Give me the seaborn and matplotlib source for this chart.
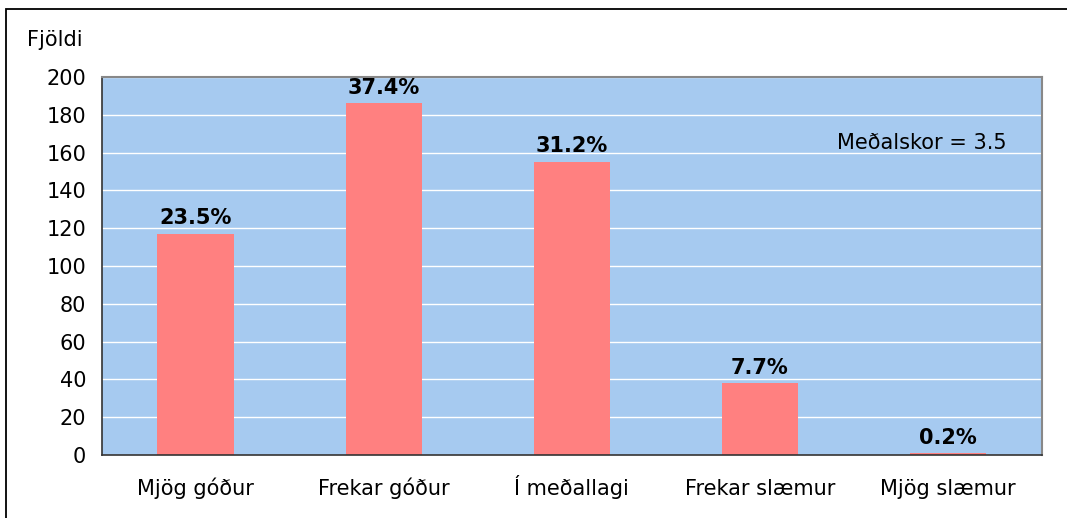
import seaborn as sns
import matplotlib.pyplot as plt
import pandas as pd
from matplotlib.patches import Rectangle

categories = ["Mjög góður", "Frekar góður", "Í meðallagi", "Frekar slæmur", "Mjög slæmur"]
counts = [117, 186, 155, 38, 1]
percent_labels = ["23.5%", "37.4%", "31.2%", "7.7%", "0.2%"]
y_ticks = [0, 20, 40, 60, 80, 100, 120, 140, 160, 180, 200]
mean_text = "Meðalskor = 3.5"

df = pd.DataFrame({"cat": categories, "n": counts})

sns.set_style("white")
plt.rcParams['font.family'] = ['DejaVu Sans']
plt.rcParams['text.color'] = 'black'
plt.rcParams['xtick.color'] = 'black'
plt.rcParams['ytick.color'] = 'black'

fs = 15

fig = plt.figure(figsize=(10.67, 5.18), dpi=100)
ax = fig.add_axes([101.5 / 1067, 1 - 455 / 518, (1042 - 101.5) / 1067, (455 - 77) / 518])

sns.barplot(data=df, x="cat", y="n", color="#FF8080", saturation=1, width=0.405,
            linewidth=0, ax=ax)
ax.set_facecolor("#A6CAF0")
ax.set_ylim(0, 200)
ax.set_xlim(-0.5, len(categories) - 0.5)
ax.set_yticks(y_ticks)
ax.yaxis.grid(True, color="white", linewidth=1)
ax.set_axisbelow(True)

# category boundary ticks on x axis
ax.set_xticks([i - 0.5 for i in range(len(categories) + 1)], minor=False)
ax.set_xticklabels([])
ax.set_xticks(range(len(categories)), minor=True)
ax.set_xticklabels(categories, minor=True, fontsize=fs)
for lab in ax.get_xticklabels(minor=True):
    lab.set_verticalalignment("baseline")
ax.tick_params(axis="x", which="minor", length=0, pad=29)
ax.tick_params(axis="x", which="major", length=6, width=1.2, color="#444444", direction="out")
ax.tick_params(axis="y", length=6, width=1.2, color="#444444", direction="out", labelsize=fs, pad=5)
ax.set_xlabel("")
ax.set_ylabel("")

for side in ["left", "bottom"]:
    ax.spines[side].set_color("#333333")
    ax.spines[side].set_linewidth(1.2)
for side in ["top", "right"]:
    ax.spines[side].set_visible(True)
    ax.spines[side].set_color("#888888")
    ax.spines[side].set_linewidth(1.5)

for i, (v, lab) in enumerate(zip(counts, percent_labels)):
    ax.annotate(lab, (i, v), xytext=(0, 4), textcoords="offset points",
                ha="center", va="bottom", fontsize=fs, fontweight="bold")

ax.text(0.872, 0.825, mean_text, transform=ax.transAxes, ha="center", va="center", fontsize=fs)
fig.text(27 / 1067, 1 - 40 / 518, "Fjöldi", ha="left", va="center", fontsize=fs)

# outer chart border
fig.patches.append(Rectangle((6 / 1067, -0.1), 1.2, 1 - 9 / 518 + 0.1, transform=fig.transFigure,
                             fill=False, edgecolor="black", linewidth=1.3))

fig.savefig("out.png", dpi=100)
plt.close(fig)
